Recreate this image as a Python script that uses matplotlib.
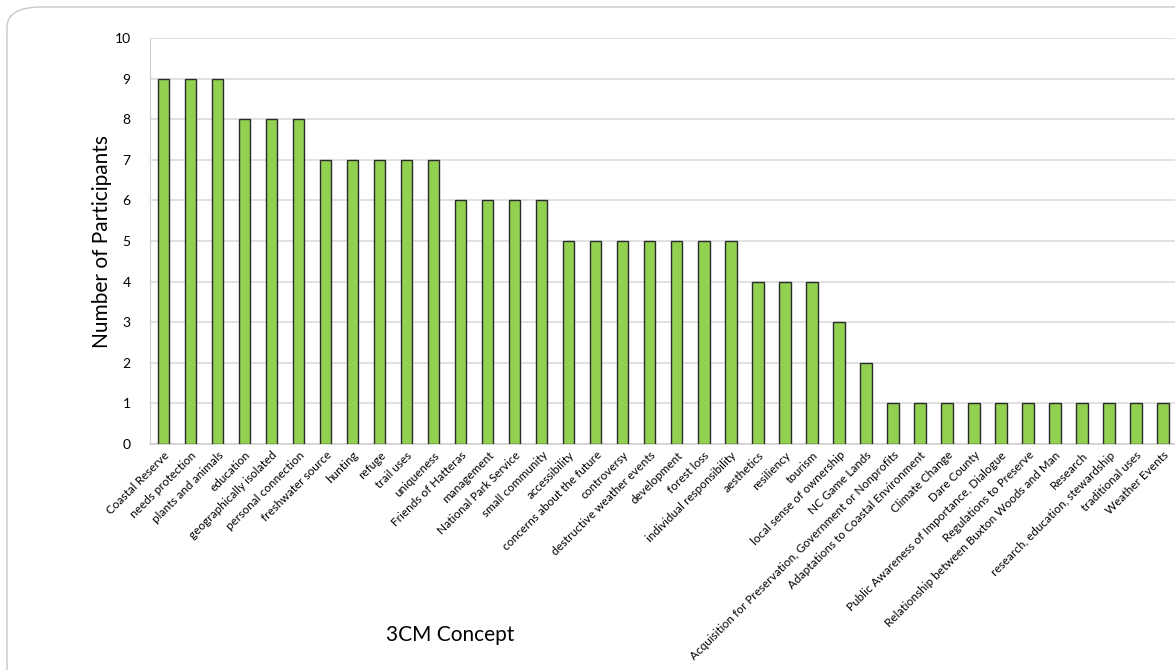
import matplotlib.pyplot as plt
from matplotlib.patches import FancyBboxPatch

# 3CM concepts and how many participants mentioned each
concepts = [
    'Coastal Reserve', 'needs protection', 'plants and animals', 'education',
    'geographically isolated', 'personal connection', 'freshwater source',
    'hunting', 'refuge', 'trail uses', 'uniqueness', 'Friends of Hatteras',
    'management', 'National Park Service', 'small community', 'accessibility',
    'concerns about the future', 'controversy', 'destructive weather events',
    'development', 'forest loss', 'individual responsibility', 'aesthetics',
    'resiliency', 'tourism', 'local sense of ownership', 'NC Game Lands',
    'Acquisition for Preservation, Government or Nonprofits',
    'Adaptations to Coastal Environment', 'Climate Change', 'Dare County',
    'Public Awareness of Importance, Dialogue', 'Regulations to Preserve',
    'Relationship between Buxton Woods and Man', 'Research',
    'research, education, stewardship', 'traditional uses', 'Weather Events',
]
participants = [9, 9, 9, 8, 8, 8, 7, 7, 7, 7, 7, 6, 6, 6, 6, 5, 5, 5, 5, 5, 5,
                5, 4, 4, 4, 3, 2, 1, 1, 1, 1, 1, 1, 1, 1, 1, 1, 1]

plt.rcParams['font.family'] = ['Lato', 'DejaVu Sans']

fig = plt.figure(figsize=(11.75, 6.7), dpi=100)

# rounded card outline behind the chart
card = FancyBboxPatch((7 / 1175, -0.1), 1.2, 1.1 - 7 / 670,
                      boxstyle='round,pad=0,rounding_size=0.03',
                      transform=fig.transFigure, facecolor='white',
                      edgecolor='#c8c8c8', linewidth=1.0, zorder=-10)
fig.patches.append(card)

ax = fig.add_axes([150 / 1175, 1 - 444 / 670, 1 - 150 / 1175, (444 - 38) / 670])
ax.set_zorder(1)
ax.set_facecolor('none')

x = range(len(concepts))
ax.bar(x, participants, width=0.42, color='#92d050', edgecolor='#2b2b2b',
       linewidth=1.0, zorder=3)

ax.set_ylim(0, 10)
ax.set_yticks(range(0, 11))
ax.set_xlim(-0.5, 37.44)
ax.set_xticks(list(x))
ax.set_xticklabels(concepts, rotation=45, ha='right', rotation_mode='anchor',
                   fontsize=8.5)
ax.tick_params(axis='x', length=0, pad=4)
ax.tick_params(axis='y', length=0, pad=14, labelsize=10)
ax.grid(axis='y', color='#dcdcdc', linewidth=1.2, zorder=0)

for side in ['top', 'right']:
    ax.spines[side].set_visible(False)
ax.spines['left'].set_color('#cfcfcf')
ax.spines['bottom'].set_color('#cfcfcf')
ax.spines['bottom'].set_linewidth(1.2)

ax.set_ylabel('Number of Participants', fontsize=15, labelpad=2)
fig.text(450 / 1175, 1 - 635 / 670, '3CM Concept', fontsize=15,
         ha='center', va='center')

plt.savefig('out.png', dpi=100)
